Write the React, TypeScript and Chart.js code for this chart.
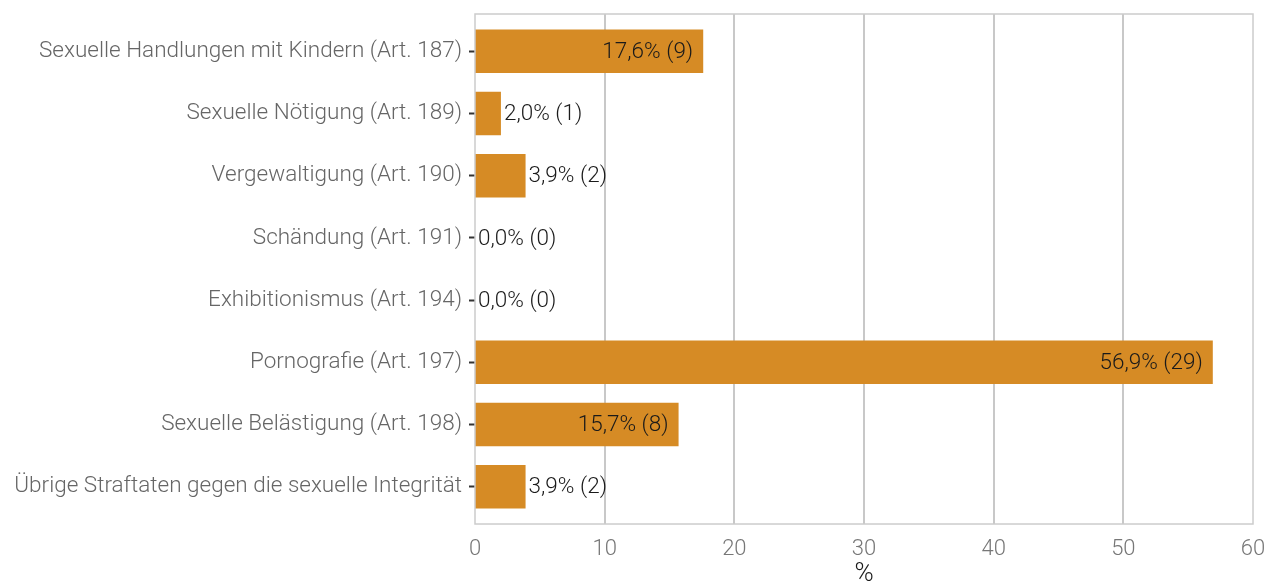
import React, { useEffect, useRef } from "react";
import { Chart, registerables } from "chart.js";

Chart.register(...registerables);

const categories = [
  "Sexuelle Handlungen mit Kindern (Art. 187)",
  "Sexuelle Nötigung (Art. 189)",
  "Vergewaltigung (Art. 190)",
  "Schändung (Art. 191)",
  "Exhibitionismus (Art. 194)",
  "Pornografie (Art. 197)",
  "Sexuelle Belästigung (Art. 198)",
  "Übrige Straftaten gegen die sexuelle Integrität",
];
const percentages = [17.6, 2.0, 3.9, 0.0, 0.0, 56.9, 15.7, 3.9];
const counts = [9, 1, 2, 0, 0, 29, 8, 2];
const xTicks = [0, 10, 20, 30, 40, 50, 60];

const FONT = "Roboto";
const BAR = "#D68B25";

const fmt = (v: number, n: number) => `${v.toFixed(1).replace(".", ",")}% (${n})`;

const labelPlugin = {
  id: "barLabels",
  afterDatasetsDraw(chart: any) {
    const ctx = chart.ctx;
    const meta = chart.getDatasetMeta(0);
    ctx.save();
    ctx.font = `300 22.5px ${FONT}`;
    ctx.fillStyle = "#1a1a1a";
    ctx.textBaseline = "middle";
    meta.data.forEach((el: any, i: number) => {
      const v = percentages[i];
      const txt = fmt(v, counts[i]);
      if (v > 10) {
        ctx.textAlign = "right";
        ctx.fillText(txt, el.x - 10, el.y + 1);
      } else {
        ctx.textAlign = "left";
        ctx.fillText(txt, el.x + 3, el.y + 1);
      }
    });
    ctx.restore();
  },
};

const borderPlugin = {
  id: "plotBorder",
  afterDraw(chart: any) {
    const { ctx, chartArea } = chart;
    ctx.save();
    ctx.strokeStyle = "#cccccc";
    ctx.lineWidth = 1.5;
    ctx.strokeRect(chartArea.left, chartArea.top, chartArea.right - chartArea.left, chartArea.bottom - chartArea.top);
    ctx.restore();
  },
};

export default function App() {
  const ref = useRef<HTMLCanvasElement>(null);
  useEffect(() => {
    if (!ref.current) return;
    const chart = new Chart(ref.current, {
      type: "bar",
      data: {
        datasets: [
          {
            data: percentages.map((v, i) => ({ x: v, y: i + 1 })),
            backgroundColor: BAR,
            borderWidth: 0,
            categoryPercentage: 1,
            barPercentage: 0.7,
          },
        ],
      },
      options: {
        indexAxis: "y",
        animation: false,
        responsive: true,
        maintainAspectRatio: false,
        layout: { padding: { top: 14, right: 15, left: 0, bottom: 0 } },
        plugins: { legend: { display: false }, tooltip: { enabled: false } },
        scales: {
          x: {
            type: "linear",
            min: 0,
            max: 60,
            afterBuildTicks: (s: any) => {
              s.ticks = xTicks.map((v) => ({ value: v }));
            },
            afterFit: (s: any) => {
              s.height = 63;
              s.paddingLeft = 0;
              s.paddingRight = 0;
            },
            grid: {
              color: "#c8c8c8",
              lineWidth: (c: any) => (c.tick && (c.tick.value === 0 || c.tick.value === 60) ? 0 : 2),
              drawTicks: false,
            },
            border: { display: false },
            ticks: {
              padding: 12,
              color: "#777777",
              font: { family: FONT, size: 22, weight: "300" },
            },
            title: {
              display: true,
              text: "%",
              color: "#1a1a1a",
              padding: { top: 4, bottom: 0 },
              font: { family: FONT, size: 26, weight: "300", lineHeight: 1 },
            },
          },
          y: {
            type: "linear",
            reverse: true,
            offset: false,
            min: 0.4,
            max: 8.6,
            afterBuildTicks: (s: any) => {
              s.ticks = categories.map((_, i) => ({ value: i + 1 }));
            },
            afterFit: (s: any) => {
              s.width = 475;
              s.paddingTop = 0;
              s.paddingBottom = 0;
            },
            grid: {
              offset: false,
              drawOnChartArea: false,
              drawTicks: true,
              tickLength: 6,
              tickColor: "#333333",
              tickWidth: 2,
            },
            border: { display: false },
            ticks: {
              padding: 7,
              color: "#666666",
              font: { family: FONT, size: 22.5, weight: "300" },
              callback: (v: any) => categories[Math.round(Number(v)) - 1] ?? "",
            },
          },
        },
      },
      plugins: [labelPlugin, borderPlugin],
    } as any);
    return () => chart.destroy();
  }, []);
  return (
    <div style={{ position: "fixed", left: 0, top: 0, width: 1268, height: 587, background: "#fff" }}>
      <canvas ref={ref} />
    </div>
  );
}
